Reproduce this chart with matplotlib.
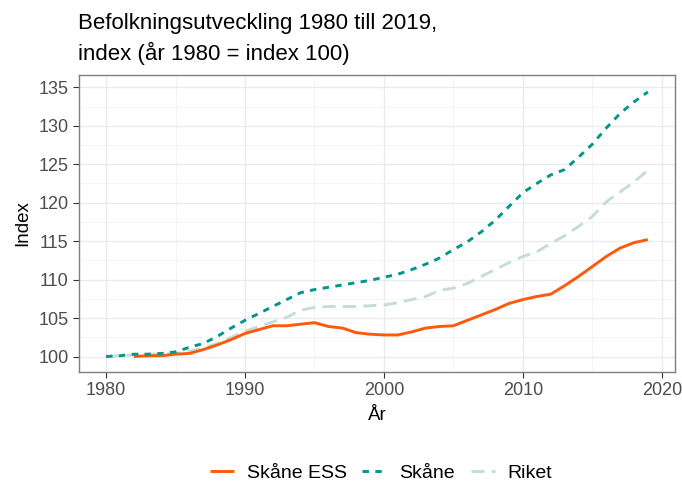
import numpy as np
import matplotlib
matplotlib.use("Agg")
import matplotlib.pyplot as plt

years = list(range(1980, 2020))

# Skåne ESS starts in 1982
ess_years = list(range(1982, 2020))
skane_ess = [100.0, 100.1, 100.1, 100.3, 100.4, 100.9, 101.5, 102.2, 103.0, 103.5,
             104.0, 104.0, 104.2, 104.4, 103.9, 103.7, 103.1, 102.9, 102.8, 102.8,
             103.2, 103.7, 103.9, 104.0, 104.7, 105.4, 106.1, 106.9, 107.4, 107.8,
             108.1, 109.2, 110.4, 111.7, 113.0, 114.1, 114.8, 115.2]

skane = [100.0, 100.1, 100.3, 100.3, 100.4, 100.6, 101.2, 101.7, 102.6, 103.7,
         104.7, 105.6, 106.5, 107.4, 108.3, 108.7, 109.0, 109.3, 109.6, 109.9,
         110.3, 110.7, 111.3, 112.0, 112.8, 113.9, 114.9, 116.2, 117.7, 119.5,
         121.3, 122.5, 123.6, 124.3, 125.9, 127.6, 129.7, 131.6, 133.1, 134.4]

riket = [100.0, 100.1, 100.2, 100.3, 100.3, 100.4, 100.7, 101.1, 101.7, 102.5,
         103.3, 103.9, 104.5, 105.1, 106.0, 106.4, 106.5, 106.5, 106.5, 106.6,
         106.7, 107.0, 107.4, 107.8, 108.6, 108.9, 109.5, 110.4, 111.3, 112.2,
         113.0, 113.6, 114.7, 115.7, 116.9, 118.2, 120.1, 121.4, 122.7, 124.2]

plt.rcParams['font.family'] = ['Liberation Sans', 'DejaVu Sans']

fig = plt.figure(figsize=(6.82, 4.87), dpi=100)
ax = fig.add_axes([79 / 682, 1 - 371.5 / 487, (675 - 79) / 682, (371.5 - 75) / 487])

ax.plot(ess_years, skane_ess, color='#FF5A0A', lw=2.1, label='Skåne ESS',
        solid_capstyle='butt', zorder=3)
ax.plot(years, skane, color='#00968C', lw=2.1, label='Skåne',
        linestyle=(0, (2.2, 2.2)), zorder=3)
ax.plot(years, riket, color='#C6DCDC', lw=2.1, label='Riket',
        linestyle=(0, (4.5, 2.5)), zorder=2)

ax.set_xlim(1978.05, 2020.95)
ax.set_ylim(98.05, 136.6)
ax.set_xticks([1980, 1990, 2000, 2010, 2020])
ax.set_yticks(np.arange(100, 136, 5))
ax.set_xticks([1985, 1995, 2005, 2015], minor=True)
ax.set_yticks(np.arange(102.5, 136, 5), minor=True)

ax.grid(True, which='major', color='#EBEBEB', lw=1.0)
ax.grid(True, which='minor', color='#F2F2F2', lw=0.6)
ax.set_axisbelow(True)
for s in ax.spines.values():
    s.set_color('#7F7F7F')
    s.set_linewidth(1.0)
ax.tick_params(which='major', length=4, color='#333333', labelcolor='#4D4D4D',
               labelsize=13, pad=3.5)
ax.tick_params(which='minor', length=0)

ax.set_xlabel('År', fontsize=13.5, labelpad=6)
ax.set_ylabel('Index', fontsize=13.5, labelpad=5)

fig.text(78 / 682, 1 - 23 / 487, 'Befolkningsutveckling 1980 till 2019,',
         fontsize=16, va='center', ha='left')
fig.text(78 / 682, 1 - 53 / 487, 'index (år 1980 = index 100)',
         fontsize=16, va='center', ha='left')

fig.legend(loc='center', bbox_to_anchor=(381 / 682, 1 - 473 / 487), ncol=3,
           frameon=False, fontsize=14, handlelength=1.25, columnspacing=0.8,
           handletextpad=0.65)

fig.savefig('out.png', dpi=100)
